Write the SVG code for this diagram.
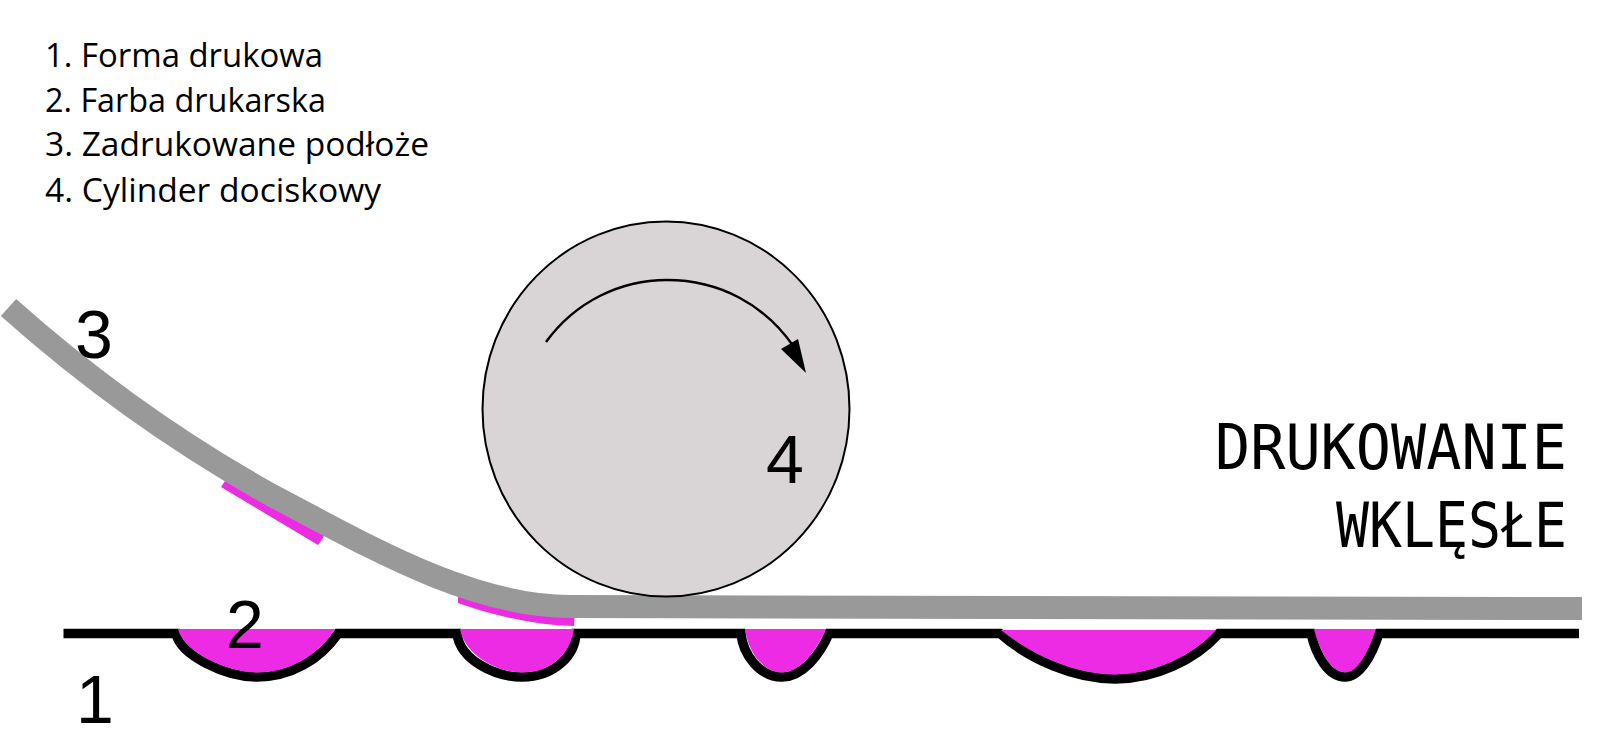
<svg xmlns="http://www.w3.org/2000/svg" width="1605" height="729" viewBox="0 0 1605 729">
<style>
.cup{stroke:none;fill:#ee2be4}
.edge{fill:none;stroke:#000;stroke-width:9.5}
.num{font-family:"Liberation Sans",Arial,sans-serif;font-size:68px;fill:#000}
.list{font-family:"Open Sans","Noto Sans",sans-serif;font-size:33px;fill:#000}
.title{font-family:"DejaVu Sans Mono","Liberation Mono",monospace;font-size:63px;fill:#000}
</style>
<rect width="1605" height="729" fill="#fff"/>
<g id="plate">
<path class="edge" d="M63.5,633.5 H176 C180,655 225,677 257,677 C290,677 320,660 338,633.5 H457 C460,660 495,677 522,677 C555,677 575,655 576,633.5 H741 C743,655 760,677 782,677 C802,677 820,655 829,633.5 H1000 C1030,660 1075,679 1115,679 C1155,679 1195,660 1219,633.5 H1311 C1316,655 1328,677 1345,677 C1360,677 1372,655 1379,633.5 H1579"/>
<path class="cup" d="M178,629 C184,653 228,672.5 257,672.5 C287,672.5 317,657 335,629Z"/>
<path class="cup" d="M460,629 C465,656 498,672.5 522,672.5 C552,672.5 571,652 574,629Z"/>
<path class="cup" d="M745,629 C748,652 763,672.5 782,672.5 C799,672.5 816,652 826,629Z"/>
<path class="cup" d="M1001,630 C1034,657 1078,674.5 1115,674.5 C1152,674.5 1191,657 1216,630Z"/>
<path class="cup" d="M1314,629 C1320,652 1331,672.5 1345,672.5 C1358,672.5 1368,652 1376,629Z"/>
</g>
<g id="ink-transfer">
<path d="M221,487 L225,481 L240,470 L330,520 L323,538 L318,545Z" fill="#ee2be4"/>
<path d="M458,590 L458,603 C495,616 535,625 574,626 L575,610 L500,600Z" fill="#ee2be4"/>
</g>
<g id="substrate">
<path d="M8.5,307.5 C96.5,386 185,447 273,496 C370,547 470,606 570,606.5 L1582,608.5" fill="none" stroke="#999" stroke-width="23"/>
</g>
<g id="cylinder">
<ellipse cx="666" cy="409" rx="183.5" ry="187.5" fill="#d9d5d6" stroke="#000" stroke-width="2"/>
<path d="M546,342 C575,302 620,280 667,280 C720,280 765,305 794,347" fill="none" stroke="#000" stroke-width="2.5"/>
<path d="M806,373 L781,349 L798,339Z" fill="#000"/>
</g>
<g id="labels">
<text class="num" x="75" y="358">3</text>
<text class="num" x="766" y="483">4</text>
<text class="num" x="226" y="648">2</text>
<text class="num" x="76" y="723">1</text>
</g>
<g id="legend">
<text class="list" x="45" y="67" textLength="278" lengthAdjust="spacingAndGlyphs">1. Forma drukowa</text>
<text class="list" x="45" y="112" textLength="281" lengthAdjust="spacingAndGlyphs">2. Farba drukarska</text>
<text class="list" x="45" y="156" textLength="384" lengthAdjust="spacingAndGlyphs">3. Zadrukowane podłoże</text>
<text class="list" x="45" y="202" textLength="336" lengthAdjust="spacingAndGlyphs">4. Cylinder dociskowy</text>
</g>
<g id="title">
<text class="title" x="1215" y="469" textLength="352" lengthAdjust="spacingAndGlyphs">DRUKOWANIE</text>
<text class="title" x="1336" y="547" textLength="231" lengthAdjust="spacingAndGlyphs">WKLĘSŁE</text>
</g>
</svg>
